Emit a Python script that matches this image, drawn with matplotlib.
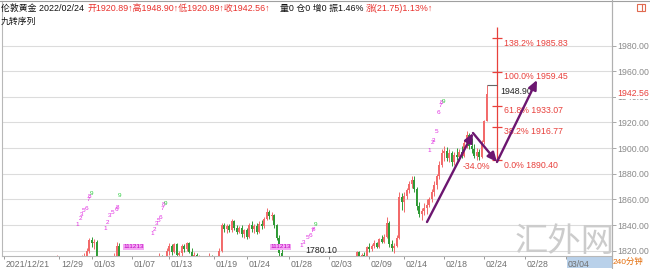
import matplotlib

matplotlib.use("Agg")
import matplotlib.pyplot as plt
import matplotlib.transforms as mtransforms
import numpy as np
from matplotlib.lines import Line2D
from matplotlib.patches import Rectangle

plt.rcParams["font.family"] = ["Liberation Sans", "Noto Sans CJK SC", "DejaVu Sans"]

# 240-minute bars, London gold, 2021/12/21 .. 2022/02/24
opens = [
    1790, 1792, 1794, 1790, 1792, 1796, 1797, 1795, 1799, 1803,
    1802, 1805, 1806, 1804, 1809, 1808, 1810, 1809, 1805, 1807,
    1810, 1812, 1814, 1806, 1803, 1806, 1808, 1807, 1804, 1806,
    1809, 1812, 1815, 1816, 1820, 1828, 1826, 1827, 1811, 1800,
    1804, 1807, 1810, 1813, 1811, 1816, 1824, 1809, 1803, 1790,
    1789, 1791, 1794, 1796, 1792, 1795, 1797, 1798, 1797, 1799,
    1801, 1804, 1808, 1816, 1812, 1814, 1820, 1824, 1819, 1825,
    1817, 1818, 1824, 1821, 1826, 1819, 1813, 1817, 1812, 1815,
    1810, 1811, 1813, 1816, 1812, 1813, 1815, 1820, 1840, 1837,
    1839, 1836, 1843, 1838, 1835, 1838, 1833, 1836, 1831, 1840,
    1837, 1839, 1835, 1841, 1839, 1845, 1850, 1847, 1848, 1840,
    1830, 1818, 1810, 1800, 1795, 1792, 1790, 1786, 1787, 1785,
    1790, 1793, 1796, 1795, 1799, 1801, 1799, 1797, 1802, 1804,
    1801, 1795, 1798, 1803, 1806, 1808, 1806, 1810, 1812, 1809,
    1811, 1814, 1819, 1815, 1817, 1816, 1823, 1821, 1824, 1826,
    1823, 1829, 1827, 1831, 1842, 1825, 1822, 1824, 1830, 1862,
    1858, 1863, 1867, 1872, 1875, 1868, 1855, 1849, 1851, 1853,
    1856, 1860, 1866, 1871, 1878, 1887, 1896, 1898, 1892, 1896,
    1889, 1895, 1893, 1897, 1894, 1904, 1910, 1902, 1899, 1894,
    1897, 1893, 1905, 1920.89,
]
highs = [
    1793, 1796, 1795, 1793, 1797, 1799, 1799, 1800, 1805, 1806,
    1806, 1808, 1809, 1810, 1812, 1811, 1813, 1812, 1808, 1811,
    1814, 1817, 1815, 1809, 1808, 1810, 1812, 1811, 1808, 1811,
    1814, 1817, 1818, 1822, 1830, 1831, 1829, 1828, 1813, 1806,
    1809, 1812, 1815, 1815, 1818, 1827, 1826, 1811, 1805, 1794,
    1793, 1796, 1798, 1800, 1797, 1799, 1800, 1801, 1800, 1803,
    1806, 1810, 1818, 1817, 1816, 1822, 1826, 1825, 1826, 1826,
    1820, 1825, 1825, 1827, 1827, 1822, 1819, 1818, 1817, 1816,
    1813, 1815, 1818, 1817, 1814, 1816, 1822, 1842, 1842, 1841,
    1841, 1845, 1844, 1840, 1839, 1840, 1837, 1838, 1842, 1843,
    1841, 1842, 1843, 1844, 1846, 1853, 1852, 1850, 1849, 1841,
    1832, 1821, 1813, 1803, 1798, 1795, 1793, 1790, 1789, 1792,
    1795, 1798, 1800, 1800, 1803, 1805, 1802, 1803, 1806, 1807,
    1804, 1800, 1804, 1808, 1810, 1811, 1812, 1814, 1815, 1813,
    1815, 1820, 1820, 1818, 1819, 1824, 1826, 1825, 1828, 1827,
    1830, 1832, 1833, 1846, 1843, 1828, 1826, 1832, 1866, 1865,
    1866, 1869, 1874, 1878, 1878, 1870, 1858, 1853, 1857, 1860,
    1862, 1868, 1874, 1880, 1890, 1899, 1902, 1901, 1899, 1898,
    1897, 1900, 1899, 1902, 1906, 1913, 1912, 1908, 1903, 1900,
    1899, 1906, 1922, 1948.90,
]
lows = [
    1787, 1790, 1789, 1788, 1791, 1794, 1793, 1794, 1798, 1800,
    1801, 1803, 1803, 1803, 1806, 1805, 1807, 1803, 1802, 1805,
    1808, 1810, 1804, 1801, 1800, 1804, 1805, 1802, 1800, 1805,
    1807, 1810, 1811, 1814, 1818, 1823, 1821, 1808, 1798, 1797,
    1801, 1805, 1808, 1809, 1810, 1814, 1806, 1800, 1788, 1785,
    1784, 1788, 1790, 1789, 1782, 1792, 1794, 1795, 1793, 1796,
    1799, 1802, 1806, 1810, 1809, 1812, 1817, 1817, 1818, 1815,
    1812, 1816, 1819, 1820, 1818, 1811, 1811, 1810, 1810, 1808,
    1806, 1809, 1811, 1810, 1809, 1811, 1813, 1819, 1835, 1834,
    1835, 1835, 1836, 1833, 1834, 1831, 1830, 1829, 1830, 1835,
    1834, 1833, 1834, 1837, 1838, 1844, 1845, 1844, 1838, 1828,
    1815, 1808, 1798, 1792, 1788, 1786, 1783, 1783, 1780.10, 1784,
    1788, 1791, 1793, 1794, 1796, 1798, 1794, 1796, 1800, 1799,
    1791, 1792, 1796, 1801, 1803, 1804, 1805, 1808, 1807, 1806,
    1809, 1812, 1813, 1812, 1814, 1815, 1819, 1820, 1822, 1822,
    1822, 1826, 1826, 1830, 1823, 1820, 1818, 1823, 1829, 1852,
    1850, 1860, 1865, 1869, 1866, 1852, 1846, 1844, 1848, 1849,
    1854, 1858, 1863, 1868, 1876, 1885, 1890, 1890, 1889, 1886,
    1887, 1891, 1890, 1892, 1893, 1900, 1899, 1896, 1892, 1890.40,
    1891, 1892, 1903, 1920.89,
]
closes = [
    1792, 1794, 1790, 1792, 1796, 1797, 1795, 1799, 1803, 1802,
    1805, 1806, 1804, 1809, 1808, 1810, 1809, 1805, 1807, 1810,
    1812, 1814, 1806, 1803, 1806, 1808, 1807, 1804, 1806, 1809,
    1812, 1815, 1816, 1820, 1828, 1826, 1827, 1811, 1800, 1804,
    1807, 1810, 1813, 1811, 1816, 1824, 1809, 1803, 1790, 1789,
    1791, 1794, 1796, 1792, 1795, 1797, 1798, 1797, 1799, 1801,
    1804, 1808, 1816, 1812, 1814, 1820, 1824, 1819, 1825, 1817,
    1818, 1824, 1821, 1826, 1819, 1813, 1817, 1812, 1815, 1810,
    1811, 1813, 1816, 1812, 1813, 1815, 1820, 1840, 1837, 1839,
    1836, 1843, 1838, 1835, 1838, 1833, 1836, 1831, 1840, 1837,
    1839, 1835, 1841, 1839, 1845, 1850, 1847, 1848, 1840, 1830,
    1818, 1810, 1800, 1795, 1792, 1790, 1786, 1787, 1785, 1790,
    1793, 1796, 1795, 1799, 1801, 1799, 1797, 1802, 1804, 1801,
    1795, 1798, 1803, 1806, 1808, 1806, 1810, 1812, 1809, 1811,
    1814, 1819, 1815, 1817, 1816, 1823, 1821, 1824, 1826, 1823,
    1829, 1827, 1831, 1842, 1825, 1822, 1824, 1830, 1862, 1858,
    1863, 1867, 1872, 1875, 1868, 1855, 1849, 1851, 1853, 1856,
    1860, 1866, 1871, 1878, 1887, 1896, 1898, 1892, 1896, 1889,
    1895, 1893, 1897, 1894, 1904, 1910, 1902, 1899, 1894, 1897,
    1893, 1905, 1920.89, 1942.56,
]

date_ticks = [0, 22, 35, 51, 66, 84, 97, 114, 130, 146, 160, 176, 192, 208.4, 224.8]
date_labels = ["2021/12/21", "12/29", "01/03", "01/07", "01/13", "01/19", "01/24",
               "01/28", "02/03", "02/09", "02/14", "02/18", "02/24", "02/28", "03/04"]
price_levels = [1820, 1840, 1860, 1880, 1900, 1920, 1940, 1960, 1980]

last_close = 1942.56
period_high = 1948.90
period_low = 1780.10
low_bar = 118

fib_bar = 197.2
fib_top = 1994.5
fib_pcts = ["0.0%", "38.2%", "61.8%", "100.0%", "138.2%"]
fib_prices = [1890.40, 1916.77, 1933.07, 1959.45, 1985.83]
retrace_label = "-34.0%"

wave_bars = [169.2, 187.6, 197.2, 213.2]
wave_prices = [1842.4, 1911.8, 1889.2, 1953.1]

# TD sequential counts (bar, price, count)
td_marks = [
    (29.2, 1840.8, "1"), (30.4, 1845.5, "2"), (31.2, 1848.6, "3"), (32.0, 1851.7, "5"),
    (32.8, 1853.3, "6"), (33.6, 1860.3, "7"), (34.0, 1862.6, "8"), (35.2, 1865.0, "9"),
    (40.4, 1837.7, "1"), (41.2, 1842.4, "2"), (42.4, 1847.1, "3"), (43.6, 1850.2, "5"),
    (44.8, 1852.5, "6"), (45.6, 1854.1, "8"), (46.0, 1863.4, "9"),
    (59.2, 1833.8, "1"), (60.0, 1836.9, "2"), (61.2, 1841.6, "3"), (62.0, 1843.9, "5"),
    (62.4, 1846.3, "6"), (63.2, 1853.3, "7"), (63.6, 1856.4, "8"), (64.4, 1857.2, "9"),
    (118.8, 1824.4, "1"), (120.0, 1826.8, "3"), (121.6, 1830.7, "5"), (122.4, 1832.2, "6"),
    (123.2, 1835.4, "7"), (123.6, 1836.9, "8"), (124.4, 1840.8, "9"),
    (170.0, 1898.5, "1"), (171.2, 1904.0, "2"), (172.0, 1906.3, "3"), (173.2, 1912.6, "5"),
    (173.6, 1927.4, "6"), (174.4, 1933.6, "7"), (174.8, 1935.9, "8"), (175.6, 1936.7, "9"),
]
td_countdowns = [(47.6, 1823.0, "111213"), (106.4, 1823.0, "111213")]

UP = "#f26a6a"
DOWN = "#2f9a35"
FIB = "#e8403c"
PURPLE = "#6c1670"
GRID = "#dcdcdc"

W, H = 650, 269
fig = plt.figure(figsize=(W / 100, H / 100), dpi=100)
ax = fig.add_axes([2 / W, 13 / H, 610 / W, 255 / H])
ax.set_xlim(-0.8, 243.2)
ax.set_ylim(1815.9, 2014.7)

o, h, l, c = (np.array(v, dtype=float) for v in (opens, highs, lows, closes))
x = np.arange(len(o))
colors = np.where(c >= o, UP, DOWN)
ax.vlines(x, l, h, colors=colors, lw=0.7, zorder=2)
ax.bar(x, np.maximum(np.abs(c - o), 0.4), bottom=np.minimum(o, c), width=0.75,
       color=colors, linewidth=0, zorder=3)

# grid + right price axis
ax.yaxis.tick_right()
ax.set_yticks(price_levels, labels=[f"{v:.2f}" for v in price_levels])
ax.tick_params(axis="y", length=2.6, width=0.6, color="#9a9a9a", labelsize=6.3,
               labelcolor="#8a8a8a", pad=1.0)
ax.grid(axis="y", color=GRID, lw=0.8, zorder=0)
ax.annotate(f"{last_close:.2f}", xy=(1, last_close), xycoords=ax.get_yaxis_transform(),
            xytext=(5, 0), textcoords="offset pixels", va="center", fontsize=6.3,
            color=FIB, bbox=dict(facecolor="white", edgecolor="none", pad=0.6),
            annotation_clip=False, zorder=8)

# date axis
ax.set_xticks(date_ticks, labels=date_labels)
ax.tick_params(axis="x", length=2.4, width=0.6, color="#8a8a8a", labelsize=6.3,
               labelcolor="#707070", pad=0.3)
shift = mtransforms.ScaledTranslation(2 / 100, 0, fig.dpi_scale_trans)
for lab in ax.get_xticklabels():
    lab.set_horizontalalignment("left")
    lab.set_transform(lab.get_transform() + shift)

ax.spines["top"].set_visible(False)
for side in ("left", "bottom", "right"):
    ax.spines[side].set_color("#b8b8b8")
    ax.spines[side].set_linewidth(0.8)

# fibonacci projection
ax.vlines(fib_bar, fib_prices[0], fib_top, color=FIB, lw=0.9, zorder=4)
ax.hlines(fib_prices, fib_bar - 2, fib_bar + 2, color=FIB, lw=0.9, zorder=4)
for pct, p in zip(fib_pcts, fib_prices):
    ax.annotate(f"{pct} {p:.2f}", (fib_bar + 2.8, p), xytext=(0, -5),
                textcoords="offset pixels", va="center", fontsize=6.3, color=FIB)
ax.annotate(retrace_label, (fib_bar - 2.6, fib_prices[0]), xytext=(0, -6),
            textcoords="offset pixels", ha="right", va="center", fontsize=6.3, color=FIB)

# period high / low markers
ax.hlines(period_high, len(o) - 1, fib_bar, color="#666666", lw=0.8, zorder=4)
ax.annotate(f"{period_high:.2f}", (fib_bar + 1.2, period_high), xytext=(0, -6),
            textcoords="offset pixels", va="center", fontsize=6.3, color="#222222")
ax.text(low_bar + 2.4, 0.005, f"{period_low:.2f}", transform=ax.get_xaxis_transform(),
        va="bottom", fontsize=6.3, color="#222222")

# hand drawn wave arrows
for i in range(len(wave_bars) - 1):
    ax.annotate("", xy=(wave_bars[i + 1], wave_prices[i + 1]),
                xytext=(wave_bars[i], wave_prices[i]),
                arrowprops=dict(arrowstyle="-|>,head_length=0.55,head_width=0.25",
                                color=PURPLE, lw=1.7, shrinkA=0, shrinkB=0), zorder=6)

# TD sequential
for b, p, t in td_marks:
    ax.text(b, p, t, fontsize=4.6, color="#2ecc40" if t == "9" else "#e030e0",
            ha="center", va="center", zorder=5)
for b, p, t in td_countdowns:
    ax.text(b, p, t, fontsize=4.6, color="#c000c0", ha="left", va="center", zorder=5,
            bbox=dict(facecolor="#f4a8f4", edgecolor="none", pad=0.3))


# header
def fx(px):
    return px / W


def fy(py):
    return 1 - py / H


header = [
    (1, "伦敦黄金 2022/02/24", "#111111"),
    (88, "开1920.89↑高1948.90↑低1920.89↑收1942.56↑", "#e8302c"),
    (280, "量0 仓0 增0 振1.46%", "#111111"),
    (366, "涨(21.75)1.13%↑", "#e8302c"),
]
for px, txt, col in header:
    fig.text(fx(px), fy(8), txt, fontsize=6.4, color=col, va="center")
fig.text(fx(1), fy(21), "九转序列", fontsize=6.4, color="#111111", va="center")

# frame pieces outside the axes
fig.add_artist(Line2D([0, 1], [fy(0.5), fy(0.5)], color="#a0a0a0", lw=0.8))
fig.add_artist(Line2D([fx(612), fx(612)], [0, 1], color="#b0b0b0", lw=0.8))
fig.add_artist(Rectangle((fx(567), fy(268)), 45 / W, 11 / H, transform=fig.transFigure,
                         facecolor="#b9d1ea", edgecolor="none", zorder=-1))
fig.add_artist(Rectangle((fx(637), fy(11)), 8 / W, 7 / H, transform=fig.transFigure,
                         facecolor="none", edgecolor="#e06a50", lw=0.8))
fig.add_artist(Line2D([fx(642), fx(642)], [fy(11), fy(4)], color="#e06a50", lw=0.8))
fig.text(fx(613), fy(262), "240分钟", fontsize=6.0, color="#e36c09", va="center")
fig.text(fx(565), fy(241), "汇外网", fontsize=24, color="#cccccc", ha="center",
         va="center", family=["Noto Sans CJK SC"], zorder=10)

fig.savefig("out.png", dpi=100)
